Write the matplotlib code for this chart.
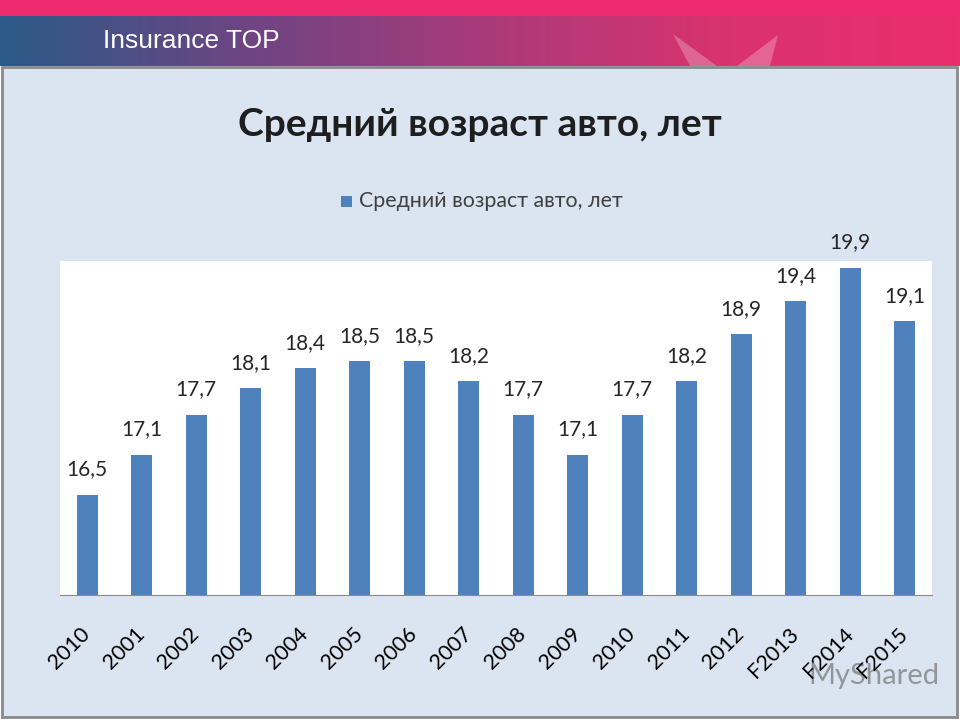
import numpy as np
import matplotlib.pyplot as plt
from matplotlib.patches import Rectangle, Polygon
from matplotlib.colors import LinearSegmentedColormap

# DATA ------------------------------------------------------
years = ["2010", "2001", "2002", "2003", "2004", "2005", "2006", "2007",
         "2008", "2009", "2010", "2011", "2012", "F2013", "F2014", "F2015"]
avg_age = [16.5, 17.1, 17.7, 18.1, 18.4, 18.5, 18.5, 18.2,
           17.7, 17.1, 17.7, 18.2, 18.9, 19.4, 19.9, 19.1]
title = "Средний возраст авто, лет"
series_name = "Средний возраст авто, лет"
header = "Insurance TOP"

fonts = ['Lato', 'Noto Sans', 'DejaVu Sans']
W, H = 960, 720

fig = plt.figure(figsize=(9.6, 7.2), dpi=100)
fig.patch.set_facecolor('white')

def fx(px):
    return px / W

def fy(py):
    return 1 - py / H

# HEADER ----------------------------------------------------
bg = fig.add_axes([0, 0, 1, 1], zorder=0)
bg.set_xlim(0, W)
bg.set_ylim(H, 0)
bg.axis('off')
bg.add_patch(Rectangle((0, 0), W, 16, color='#ee2a6e', lw=0))
grad = LinearSegmentedColormap.from_list('hdr', ['#2b5a88', '#6c4583', '#a93a7b', '#d8336f', '#ea2d6c'])
bg.imshow(np.linspace(0, 1, 256)[None, :], cmap=grad, aspect='auto',
          extent=(0, W, 66, 16), zorder=1)
# light "V" decoration
bg.add_patch(Polygon([(673, 34), (690, 66), (717, 66)], closed=True,
                     color='white', alpha=0.25, lw=0, zorder=2))
bg.add_patch(Polygon([(778, 35), (737, 66), (770, 66)], closed=True,
                     color='white', alpha=0.25, lw=0, zorder=2))
bg.text(103, 48, header, color='white', fontsize=19, family='Liberation Sans',
        va='baseline', ha='left', zorder=3)

# panel
bg.add_patch(Rectangle((2, 67), 955, 650, facecolor='#dbe5f1', edgecolor='#8a8a8a',
                       lw=2, zorder=1))

bg.text(480, 125, title, fontsize=28, fontweight='bold', family=fonts,
        color='#1e1e1e', ha='center', va='center', zorder=3)
bg.add_patch(Rectangle((341, 196), 11, 11, color='#4f81bd', lw=0, zorder=3))
bg.text(359, 201, series_name, fontsize=15.4, family=fonts, color='#404040',
        ha='left', va='center', zorder=3)

# CHART -----------------------------------------------------
ax = fig.add_axes([fx(60), fy(595), fx(932) - fx(60), fy(261) - fy(595)], zorder=2)
x = np.arange(len(years))
ax.bar(x, avg_age, width=0.39, color='#4f81bd', zorder=2)
ax.set_ylim(15, 20)
ax.set_xlim(-0.5, len(years) - 0.5)
ax.set_facecolor('white')
for s in ['top', 'right', 'left']:
    ax.spines[s].set_visible(False)
ax.spines['bottom'].set_color('#8c8c8c')
ax.set_yticks([])
ax.set_xticks(x)
ax.set_xticklabels(years, rotation=45, ha='right', va='center', rotation_mode='anchor',
                   fontsize=15.5, family=fonts, color='black')
ax.tick_params(axis='x', length=0, pad=26)

for xi, v in zip(x, avg_age):
    ax.annotate(f"{v:.1f}".replace('.', ','), (xi, v), xytext=(0, 11),
                textcoords='offset points', ha='center', va='bottom',
                fontsize=15, family=fonts, color='#262626')

# watermark
bg.text(808, 676, "MyShared", fontsize=21, family=fonts, color='#555555',
        alpha=0.55, ha='left', va='center', zorder=5)

plt.savefig('out.png', dpi=100)
